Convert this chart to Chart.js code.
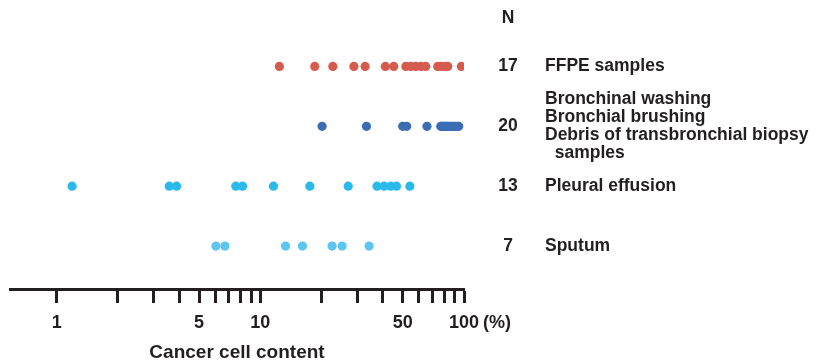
<!DOCTYPE html>
<html>
<head>
<meta charset="utf-8">
<script src="https://cdn.jsdelivr.net/npm/chart.js@4"></script>
<style>
  html, body { margin: 0; padding: 0; background: #fff; }
  #wrap { width: 821px; height: 360px; }
</style>
</head>
<body>
<div id="wrap"><canvas id="chart"></canvas></div>
<script>
// cancer cell content (%) per sample
const ffpe = [12.4, 18.5, 22.7, 28.8, 32.7, 41.1, 45.2, 51.8, 54.8, 58.0, 61.4, 64.9, 74.3, 76.9, 80.4, 83.2, 97.1];
const bronchial = [20.1, 33.2, 50.0, 52.3, 65.8, 76.9, 77.7, 78.6, 79.5, 80.4, 81.3, 82.3, 83.2, 85.1, 87.0, 88.0, 90.0, 91.1, 93.1, 94.2];
const pleural = [1.19, 3.57, 3.88, 7.58, 8.18, 11.6, 17.5, 27.0, 37.4, 40.5, 43.7, 46.6, 54.2];
const sputum = [6.05, 6.70, 13.3, 16.1, 22.5, 25.2, 34.2];

const groupN = ["17", "20", "13", "7"];
const groupLabels = [
  ["FFPE samples"],
  ["Bronchinal washing", "Bronchial brushing", "Debris of transbronchial biopsy", "  samples"],
  ["Pleural effusion"],
  ["Sputum"]
];
const groupColors = ["#d65b4f", "#3b6db5", "#2bb9ec", "#5cc5f0"];

const tickValues = [1, 2, 3, 4, 5, 6, 7, 8, 9, 10, 20, 30, 40, 50, 60, 70, 80, 90, 100];
const tickLabeled = [1, 5, 10, 50, 100];

const FONT = "'Liberation Sans', Arial, sans-serif";
const INK = "#231f20";

function rowData(values, row) {
  return values.map((v) => ({ x: v, y: row }));
}

const series = [ffpe, bronchial, pleural, sputum];

const sideText = {
  id: "sideText",
  afterDraw(chart) {
    const ctx = chart.ctx;
    const yScale = chart.scales.y;
    const xScale = chart.scales.x;
    const area = chart.chartArea;
    const nX = area.right + 44;
    const labelX = area.right + 81;
    ctx.save();
    ctx.fillStyle = INK;
    ctx.font = "bold 17.5px " + FONT;
    ctx.textBaseline = "middle";

    ctx.textAlign = "center";
    ctx.fillText("N", nX, yScale.getPixelForValue(0.2));

    groupN.forEach((n, i) => {
      const y = yScale.getPixelForValue(i + 1);
      ctx.textAlign = "center";
      ctx.fillText(n, nX, y);
      const lines = groupLabels[i];
      const lh = 18;
      ctx.textAlign = "left";
      lines.forEach((line, j) => {
        ctx.fillText(line, labelX, y + (j - (lines.length - 1) / 2) * lh);
      });
    });

    // unit after the last tick label, and the axis title
    ctx.font = "bold 18px " + FONT;
    ctx.textAlign = "left";
    ctx.fillText("(%)", xScale.getPixelForValue(100) + 19, area.bottom + 34);
    ctx.font = "bold 19px " + FONT;
    ctx.textAlign = "center";
    ctx.fillText("Cancer cell content", (area.left + area.right) / 2, area.bottom + 64);
    ctx.restore();
  }
};

new Chart(document.getElementById("chart"), {
  type: "scatter",
  data: {
    datasets: series.map((vals, i) => ({
      data: rowData(vals, i + 1),
      backgroundColor: groupColors[i],
      borderWidth: 0,
      pointRadius: 4.6,
      pointHoverRadius: 4.6
    }))
  },
  options: {
    responsive: true,
    maintainAspectRatio: false,
    animation: false,
    layout: { padding: { left: 10, right: 357, top: 0, bottom: 17 } },
    plugins: { legend: { display: false }, tooltip: { enabled: false } },
    scales: {
      x: {
        type: "logarithmic",
        min: 0.59,
        max: 100,
        afterBuildTicks(scale) {
          scale.ticks = tickValues.map((v) => ({ value: v }));
        },
        border: { display: true, width: 3, color: INK },
        grid: {
          display: true,
          drawOnChartArea: false,
          drawTicks: true,
          tickLength: 14,
          tickWidth: 3,
          tickColor: INK
        },
        ticks: {
          autoSkip: false,
          maxRotation: 0,
          padding: 11,
          color: INK,
          font: { family: FONT, size: 18, weight: "bold", lineHeight: 1 },
          callback(value) {
            return tickLabeled.includes(value) ? String(value) : "";
          }
        }
      },
      y: {
        type: "linear",
        display: false,
        reverse: true,
        min: -0.033,
        max: 4.717
      }
    }
  },
  plugins: [sideText]
});
</script>
</body>
</html>
